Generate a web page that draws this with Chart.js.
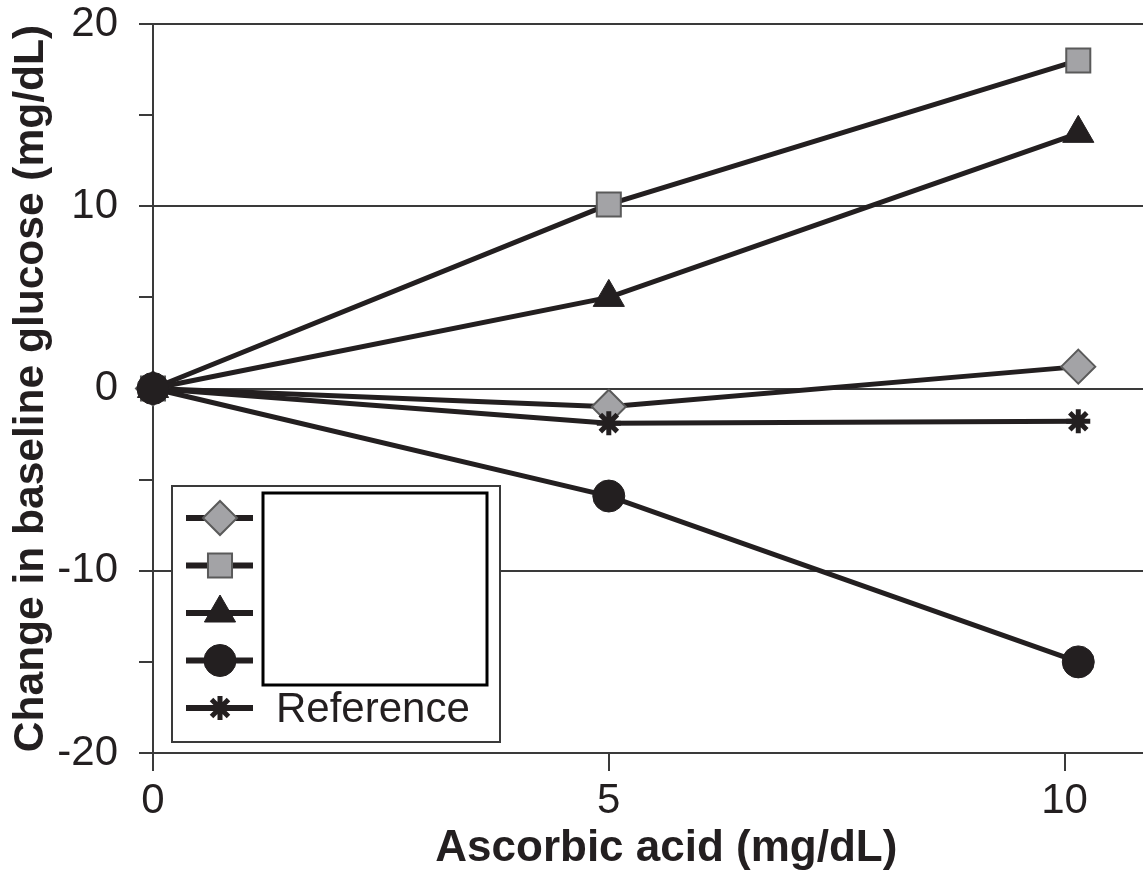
<!DOCTYPE html>
<html lang="en">
<head>
    <meta charset="UTF-8">
    <title>Change in baseline glucose vs ascorbic acid</title>
    <script src="https://cdn.jsdelivr.net/npm/chart.js"></script>
    <style>
        html, body { margin: 0; padding: 0; background: #fff; }
        #wrap { width: 1143px; height: 875px; }
    </style>
</head>
<body>
<div id="wrap"><canvas id="glucoseChart" width="1143" height="875"></canvas></div>
<script>
    // data
    const ascorbicLevels = [0, 5, 10.15];
    const diamondSeries = [0, -1.0, 1.2];
    const squareSeries = [0, 10.1, 18.0];
    const triangleSeries = [0, 5.0, 14.0];
    const circleSeries = [0, -5.9, -15.0];
    const referenceSeries = [0, -1.9, -1.8];
    const seriesLabels = ['', '', '', '', 'Reference'];
    const xTickValues = [0, 5, 10];
    const yTickValues = [-20, -15, -10, -5, 0, 5, 10, 15, 20];

    const INK = '#231f20';
    const GRID = '#3a3a3a';
    const GRAY_FILL = '#a3a3a6';
    const GRAY_EDGE = '#5a5a5a';
    const FONT = '"Liberation Sans", Arial, Helvetica, sans-serif';

    // marker look per series; drawOrder: lower is painted on top (circle covers the origin)
    const styles = [
        { pointStyle: 'rectRot', radius: 17, fill: GRAY_FILL, edge: GRAY_EDGE, bw: 2, drawOrder: 4 },
        { pointStyle: 'rect', radius: 17, fill: GRAY_FILL, edge: GRAY_EDGE, bw: 2, drawOrder: 3 },
        { pointStyle: 'triangle', radius: 18, fill: INK, edge: INK, bw: 1, drawOrder: 2 },
        { pointStyle: 'circle', radius: 16, fill: INK, edge: INK, bw: 1, drawOrder: 0 },
        { pointStyle: 'star', radius: 12, fill: INK, edge: INK, bw: 5, drawOrder: 1 }
    ];
    const allSeries = [diamondSeries, squareSeries, triangleSeries, circleSeries, referenceSeries];

    const datasets = allSeries.map((vals, i) => ({
        label: seriesLabels[i],
        data: vals.map((v, j) => ({ x: ascorbicLevels[j], y: v })),
        showLine: true,
        clip: false,
        order: styles[i].drawOrder,
        borderColor: INK,
        borderWidth: 5,
        pointStyle: styles[i].pointStyle,
        pointRadius: styles[i].radius,
        pointBackgroundColor: styles[i].fill,
        pointBorderColor: styles[i].edge,
        pointBorderWidth: styles[i].bw
    }));

    // boxed legend in the lower left corner of the plot, label text hidden by a blank box
    const boxLegend = {
        id: 'boxLegend',
        afterDraw(chart) {
            const ctx = chart.ctx;
            const area = chart.chartArea;
            const left = area.left + 19, right = area.left + 347;
            const top = area.bottom - 267, bottom = area.bottom - 11;
            ctx.save();
            ctx.fillStyle = '#fff';
            ctx.fillRect(left, top, right - left, bottom - top);
            ctx.strokeStyle = GRID;
            ctx.lineWidth = 2;
            ctx.strokeRect(left, top, right - left, bottom - top);

            const rowY0 = top + 32, rowGap = 47.5;
            styles.forEach((s, i) => {
                const y = rowY0 + i * rowGap;
                ctx.strokeStyle = INK;
                ctx.lineWidth = 6;
                ctx.beginPath();
                ctx.moveTo(left + 14, y);
                ctx.lineTo(left + 81, y);
                ctx.stroke();
                ctx.fillStyle = s.fill;
                ctx.strokeStyle = s.edge;
                ctx.lineWidth = s.bw;
                Chart.helpers.drawPoint(ctx, {
                    pointStyle: s.pointStyle, radius: s.radius, rotation: 0, borderWidth: s.bw
                }, left + 48, y);
                if (seriesLabels[i]) {
                    ctx.fillStyle = INK;
                    ctx.font = '42px ' + FONT;
                    ctx.textBaseline = 'middle';
                    ctx.textAlign = 'left';
                    ctx.fillText(seriesLabels[i], left + 104, y + 2);
                }
            });

            // blank box over the hidden labels
            ctx.fillStyle = '#fff';
            ctx.fillRect(left + 91, top + 7, 224, 192);
            ctx.strokeStyle = '#000';
            ctx.lineWidth = 3;
            ctx.strokeRect(left + 91, top + 7, 224, 192);
            ctx.restore();
        }
    };

    new Chart(document.getElementById('glucoseChart').getContext('2d'), {
        type: 'scatter',
        data: { datasets: datasets },
        plugins: [boxLegend],
        options: {
            responsive: false,
            animation: false,
            layout: { autoPadding: false, padding: { top: 24, right: 0, left: 0, bottom: 0 } },
            plugins: { legend: { display: false }, tooltip: { enabled: false } },
            scales: {
                x: {
                    type: 'linear',
                    min: 0,
                    max: 10.86,
                    afterBuildTicks: s => { s.ticks = xTickValues.map(v => ({ value: v })); },
                    afterFit: s => { s.height = 122; s.paddingLeft = 0; s.paddingRight = 0; },
                    grid: { drawOnChartArea: false, tickLength: 18, tickColor: GRID, lineWidth: 2 },
                    border: { display: true, color: GRID, width: 2 },
                    ticks: {
                        color: INK, padding: 5, maxRotation: 0,
                        font: { family: FONT, size: 42 },
                        callback: v => v
                    },
                    title: {
                        display: true,
                        text: '   Ascorbic acid (mg/dL)',
                        color: INK,
                        font: { family: FONT, size: 44, weight: 'bold' },
                        padding: { top: 0, bottom: 0 }
                    }
                },
                y: {
                    min: -20,
                    max: 20,
                    afterBuildTicks: s => { s.ticks = yTickValues.map(v => ({ value: v })); },
                    afterFit: s => { s.width = 153; s.paddingTop = 0; s.paddingBottom = 0; },
                    grid: {
                        color: c => (c.tick && c.tick.value % 10 === 0) ? GRID : 'rgba(0,0,0,0)',
                        tickColor: GRID,
                        lineWidth: 2,
                        tickLength: 14
                    },
                    border: { display: true, color: GRID, width: 2 },
                    ticks: {
                        color: INK, padding: 21,
                        font: { family: FONT, size: 42 },
                        callback: v => (v % 10 === 0 ? v : '')
                    },
                    title: {
                        display: true,
                        text: 'Change in baseline glucose (mg/dL)',
                        color: INK,
                        font: { family: FONT, size: 42.5, weight: 'bold' },
                        padding: { top: 6, bottom: 0 }
                    }
                }
            }
        }
    });
</script>
</body>
</html>
